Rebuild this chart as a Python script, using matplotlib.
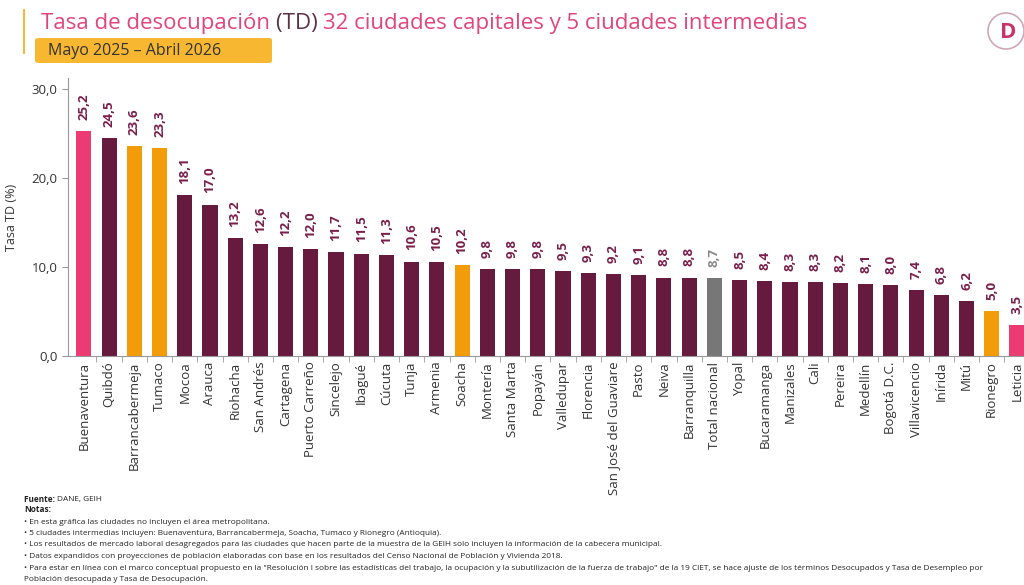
import numpy as np
import matplotlib.pyplot as plt
from matplotlib.patches import FancyBboxPatch, Ellipse
from matplotlib.ticker import FixedLocator, FuncFormatter

plt.rcParams['font.family'] = ['Open Sans', 'DejaVu Sans']

ciudades = ['Buenaventura', 'Quibdó', 'Barrancabermeja', 'Tumaco', 'Mocoa', 'Arauca',
            'Riohacha', 'San Andrés', 'Cartagena', 'Puerto Carreño', 'Sincelejo', 'Ibagué',
            'Cúcuta', 'Tunja', 'Armenia', 'Soacha', 'Montería', 'Santa Marta', 'Popayán',
            'Valledupar', 'Florencia', 'San José del Guaviare', 'Pasto', 'Neiva',
            'Barranquilla', 'Total nacional', 'Yopal', 'Bucaramanga', 'Manizales', 'Cali',
            'Pereira', 'Medellín', 'Bogotá D.C.', 'Villavicencio', 'Inírida', 'Mitú',
            'Rionegro', 'Leticia']
td = [25.2, 24.5, 23.6, 23.3, 18.1, 17.0, 13.2, 12.6, 12.2, 12.0, 11.7, 11.5, 11.3,
      10.6, 10.5, 10.2, 9.8, 9.8, 9.8, 9.5, 9.3, 9.2, 9.1, 8.8, 8.8, 8.7, 8.5, 8.4,
      8.3, 8.3, 8.2, 8.1, 8.0, 7.4, 6.8, 6.2, 5.0, 3.5]
intermedias = ['Barrancabermeja', 'Tumaco', 'Soacha', 'Rionegro']
extremos = ['Buenaventura', 'Leticia']

MAROON = '#661a3e'
PINK = '#ec3a72'
ORANGE = '#f29c0a'
GREY = '#777777'

colores = []
for c in ciudades:
    if c in extremos:
        colores.append(PINK)
    elif c in intermedias:
        colores.append(ORANGE)
    elif c == 'Total nacional':
        colores.append(GREY)
    else:
        colores.append(MAROON)

fig = plt.figure(figsize=(10.24, 5.85), dpi=100)
ax = fig.add_axes([68 / 1024, 229 / 585, 956 / 1024, 278 / 585])

x = np.arange(len(ciudades))
ax.bar(x, td, width=0.6, color=colores, zorder=2)

for xi, v, c in zip(x, td, ciudades):
    col = '#8a8a8a' if c == 'Total nacional' else '#7a1f4c'
    ax.annotate(f'{v:.1f}'.replace('.', ','), (xi, v), xytext=(0, 8),
                textcoords='offset points', rotation=90, ha='center', va='bottom',
                fontsize=9.5, fontweight='bold', color=col)

ax.set_xlim(-0.63, 37.28)
ax.set_ylim(0, 31.2)
ax.set_xticks(x)
ax.set_xticklabels(ciudades, rotation=90, fontsize=9.5, color='#333333')
ax.tick_params(axis='x', which='major', length=0, pad=4)
ax.xaxis.set_minor_locator(FixedLocator(x[:-1] + 0.5))
ax.tick_params(axis='x', which='minor', length=4, color='#999999', direction='out')

ax.set_yticks([0, 10, 20, 30])
ax.yaxis.set_major_formatter(FuncFormatter(lambda v, p: f'{v:.1f}'.replace('.', ',')))
ax.tick_params(axis='y', labelsize=9.5, length=4, color='#999999', labelcolor='#333333')
ax.set_ylabel('Tasa TD (%)', fontsize=9, color='#333333', labelpad=10)

for s in ['top', 'right']:
    ax.spines[s].set_visible(False)
ax.spines['left'].set_color('#999999')
ax.spines['bottom'].set_color('#999999')

# header: title in three colored pieces
fig.add_artist(plt.Line2D([24 / 1024, 24 / 1024], [1 - 10 / 585, 1 - 53 / 585],
                          color='#f5b841', lw=1.5))
t1 = fig.text(41 / 1024, 1 - 29 / 585, 'Tasa de desocupación ', fontsize=16,
              color='#e0457b', va='baseline', ha='left')
t2 = ax.annotate('(TD) ', xy=(1, 0), xycoords=t1, fontsize=16, color='#5a3348',
                 va='bottom', ha='left', annotation_clip=False)
ax.annotate('32 ciudades capitales y 5 ciudades intermedias', xy=(1, 0), xycoords=t2,
            fontsize=16, color='#e0457b', va='bottom', ha='left', annotation_clip=False)

box = FancyBboxPatch((35 / 1024, 1 - 63 / 585), 237 / 1024, 25 / 585,
                     boxstyle='round,pad=0,rounding_size=0.004', transform=fig.transFigure,
                     facecolor='#f7b731', edgecolor='none')
fig.add_artist(box)
fig.text(48 / 1024, 1 - 51 / 585, 'Mayo 2025 – Abril 2026', fontsize=11.5, color='#333333',
         va='center', ha='left')

# logo
logo = Ellipse((1006 / 1024, 1 - 31 / 585), 36 / 1024, 36 / 585, transform=fig.transFigure,
               facecolor='white', edgecolor='#cfa7b8', lw=1.2)
fig.add_artist(logo)
fig.text(1008 / 1024, 1 - 32 / 585, 'D', fontsize=16, fontweight='bold', color='#c8336a',
         ha='center', va='center')

# notes
notas = [
    '• En esta gráfica las ciudades no incluyen el área metropolitana.',
    '• 5 ciudades intermedias incluyen: Buenaventura, Barrancabermeja, Soacha, Tumaco y Rionegro (Antioquia).',
    '• Los resultados de mercado laboral desagregados para las ciudades que hacen parte de la muestra de la GEIH solo incluyen la información de la cabecera municipal.',
    '• Datos expandidos con proyecciones de población elaboradas con base en los resultados del Censo Nacional de Población y Vivienda 2018.',
    '• Para estar en línea con el marco conceptual propuesto en la "Resolución I sobre las estadísticas del trabajo, la ocupación y la subutilización de la fuerza de trabajo" de la 19 CIET, se hace ajuste de los términos Desocupados y Tasa de Desempleo por',
    'Población desocupada y Tasa de Desocupación.',
]
fs = 5.95
f1 = fig.text(24 / 1024, 1 - 499 / 585, 'Fuente: ', fontsize=fs, fontweight='bold',
              color='#222222', va='center')
ax.annotate('DANE, GEIH', xy=(1, 0.5), xycoords=f1, fontsize=fs, color='#222222',
            va='center', ha='left', annotation_clip=False)
fig.text(24 / 1024, 1 - 510 / 585, 'Notas:', fontsize=fs, fontweight='bold',
         color='#222222', va='center')
for i, n in enumerate(notas):
    fig.text(24 / 1024, 1 - (522 + i * 11.5) / 585, n, fontsize=fs, color='#222222',
             va='center')

fig.savefig('out.png', dpi=100)
